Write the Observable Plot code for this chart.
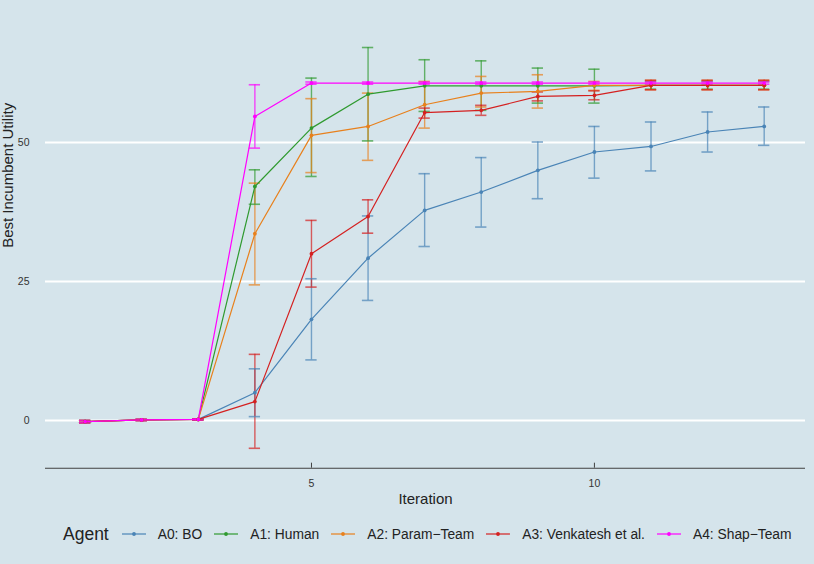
<!DOCTYPE html>
<html>
<head>
<meta charset="utf-8">
<script src="https://cdn.jsdelivr.net/npm/d3@7"></script>
<script src="https://cdn.jsdelivr.net/npm/@observablehq/plot@0.6"></script>
<style>
  html, body { margin: 0; padding: 0; background: #d5e4eb; }
  body { width: 814px; height: 564px; overflow: hidden; font-family: "Liberation Sans", Arial, sans-serif; }
  #legend { display: flex; align-items: center; height: 20px; margin-top: 9px; padding-left: 63px; color: #222; }
  #legend .title { font-size: 17.5px; margin-right: 13px; }
  #legend .item { display: flex; align-items: center; margin-right: 12px; font-size: 13.8px; }
  #legend svg { margin-right: 12px; }
</style>
</head>
<body>
<div id="chart"></div>
<div id="legend"></div>
<script>
const iterations = [1, 2, 3, 4, 5, 6, 7, 8, 9, 10, 11, 12, 13];
const agents = ["A0: BO", "A1: Human", "A2: Param\u2212Team", "A3: Venkatesh et al.", "A4: Shap\u2212Team"];
const colors = ["#4a84b6", "#2f9a2f", "#e8801c", "#d42020", "#ff00ff"];

const boMean  = [-0.2, 0.1, 0.2, 5.0, 18.2, 29.2, 37.8, 41.1, 45.0, 48.3, 49.3, 51.9, 52.9];
const boLo    = [-0.4, 0.0, 0.1, 0.7, 10.9, 21.6, 31.3, 34.8, 39.9, 43.6, 44.9, 48.3, 49.5];
const boHi    = [0.0, 0.2, 0.3, 9.3, 25.5, 36.8, 44.4, 47.3, 50.1, 52.9, 53.7, 55.5, 56.4];

const humanMean = [-0.2, 0.1, 0.2, 42.1, 52.6, 58.7, 60.2, 60.2, 60.2, 60.2, 60.3, 60.3, 60.3];
const humanLo   = [-0.4, 0.0, 0.1, 38.9, 43.9, 50.3, 55.6, 55.8, 57.1, 57.1, 59.6, 59.6, 59.6];
const humanHi   = [0.0, 0.2, 0.3, 45.1, 61.6, 67.1, 64.9, 64.7, 63.4, 63.2, 61.0, 61.0, 61.0];

const paramMean = [-0.2, 0.1, 0.2, 33.6, 51.3, 52.9, 56.8, 58.9, 59.2, 60.3, 60.3, 60.3, 60.3];
const paramLo   = [-0.4, 0.0, 0.1, 24.4, 44.6, 46.8, 52.6, 56.4, 56.2, 59.4, 59.5, 59.5, 59.5];
const paramHi   = [0.0, 0.2, 0.3, 42.7, 57.9, 58.9, 61.0, 61.9, 62.2, 61.0, 61.2, 61.2, 61.2];

const venkMean = [-0.2, 0.1, 0.2, 3.4, 30.0, 36.7, 55.4, 55.8, 58.3, 58.5, 60.3, 60.3, 60.3];
const venkLo   = [-0.4, 0.0, 0.1, -5.0, 24.0, 33.7, 54.4, 54.9, 57.5, 57.7, 59.5, 59.5, 59.5];
const venkHi   = [0.0, 0.2, 0.3, 11.9, 36.0, 39.7, 56.2, 56.7, 59.1, 59.3, 61.2, 61.2, 61.2];

const shapMean = [-0.2, 0.1, 0.2, 54.7, 60.7, 60.7, 60.7, 60.7, 60.7, 60.7, 60.7, 60.7, 60.7];
const shapLo   = [-0.4, 0.0, 0.1, 49.0, 60.5, 60.5, 60.5, 60.5, 60.5, 60.5, 60.5, 60.5, 60.5];
const shapHi   = [0.0, 0.2, 0.3, 60.4, 60.9, 60.9, 60.9, 60.9, 60.9, 60.9, 60.9, 60.9, 60.9];

const xTicks = [5, 10];
const yTicks = [0, 25, 50];
const xTitle = "Iteration";
const yTitle = "Best Incumbent Utility";
const legendTitle = "Agent";

const series = [
  [boMean, boLo, boHi],
  [humanMean, humanLo, humanHi],
  [paramMean, paramLo, paramHi],
  [venkMean, venkLo, venkHi],
  [shapMean, shapLo, shapHi]
];

const rows = [];
series.forEach(([m, lo, hi], i) => {
  iterations.forEach((it, j) => {
    rows.push({agent: agents[i], iter: it, mean: m[j], lo: lo[j], hi: hi[j]});
  });
});

const xDomain = [0.3, 13.73];
const yDomain = [-8.58, 70.7];
const cap = 0.1;

const plot = Plot.plot({
  width: 814,
  height: 515,
  marginLeft: 45,
  marginRight: 9,
  marginTop: 27,
  marginBottom: 47.3,
  style: {background: "transparent", fontFamily: "'Liberation Sans', Arial, sans-serif"},
  x: {domain: xDomain},
  y: {domain: yDomain},
  color: {domain: agents, range: colors},
  marks: [
    Plot.ruleY(yTicks, {stroke: "white", strokeWidth: 2}),
    Plot.ruleY([yDomain[0]], {stroke: "#404040", strokeWidth: 1.1}),
    Plot.axisX({ticks: xTicks, tickSize: -5, tickPadding: 16, fontSize: 10.5, stroke: "#404040", color: "#333", label: null}),
    Plot.axisY({ticks: yTicks, tickSize: 0, tickPadding: 16, fontSize: 10.5, color: "#333", label: null}),
    Plot.text([xTitle], {frameAnchor: "bottom", dy: 36, fontSize: 15, fill: "#222", text: d => d}),
    Plot.text([yTitle], {frameAnchor: "left", dx: -37, rotate: -90, fontSize: 15, fill: "#222", text: d => d}),
    Plot.ruleX(rows, {x: "iter", y1: "lo", y2: "hi", stroke: "agent", strokeWidth: 1.4, strokeOpacity: 0.7}),
    Plot.ruleY(rows, {y: "lo", x1: d => d.iter - cap, x2: d => d.iter + cap, stroke: "agent", strokeWidth: 1.6, strokeOpacity: 0.7}),
    Plot.ruleY(rows, {y: "hi", x1: d => d.iter - cap, x2: d => d.iter + cap, stroke: "agent", strokeWidth: 1.6, strokeOpacity: 0.7}),
    Plot.line(rows, {x: "iter", y: "mean", z: "agent", stroke: "agent", strokeWidth: 1.2}),
    Plot.dot(rows, {x: "iter", y: "mean", fill: "agent", r: 1.9})
  ]
});
document.getElementById("chart").appendChild(plot);

const legend = document.getElementById("legend");
const t = document.createElement("span");
t.className = "title";
t.textContent = legendTitle;
legend.appendChild(t);
agents.forEach((a, i) => {
  const item = document.createElement("span");
  item.className = "item";
  item.innerHTML = `<svg width="24" height="10"><line x1="0" x2="24" y1="5" y2="5" stroke="${colors[i]}" stroke-width="1.6" stroke-opacity="0.75"/><circle cx="12" cy="5" r="1.9" fill="${colors[i]}"/></svg><span>${a}</span>`;
  legend.appendChild(item);
});
</script>
</body>
</html>
